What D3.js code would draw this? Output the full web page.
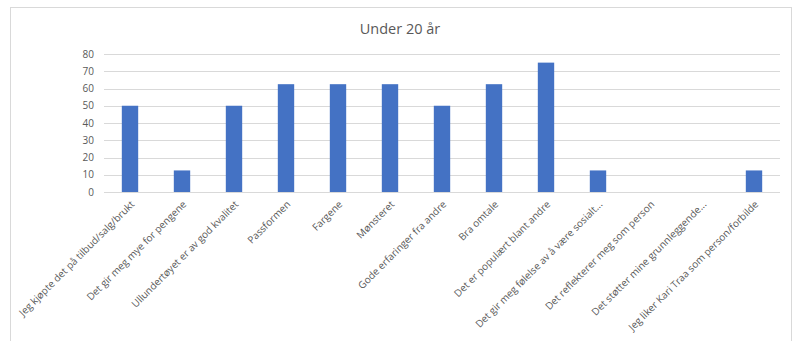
<!DOCTYPE html>
<html>
<head>
<meta charset="utf-8">
<script src="https://cdn.jsdelivr.net/npm/d3@7"></script>
<style>
  html, body { margin: 0; padding: 0; background: #fff; }
  svg { display: block; }
  text { font-family: "Open Sans", "Noto Sans", sans-serif; fill: #595959; }
</style>
</head>
<body>
<svg id="chart" width="794" height="341"></svg>
<script>
const title = "Under 20 år";
const categories = [
  "Jeg kjøpte det på tilbud/salg/brukt",
  "Det gir meg mye for pengene",
  "Ullundertøyet er av god kvalitet",
  "Passformen",
  "Fargene",
  "Mønsteret",
  "Gode erfaringer fra andre",
  "Bra omtale",
  "Det er populært blant andre",
  "Det gir meg følelse av å være sosialt...",
  "Det reflekterer meg som person",
  "Det støtter mine grunnleggende...",
  "Jeg liker Kari Traa som person/forbilde"
];
const values = [50, 12.5, 50, 62.5, 62.5, 62.5, 50, 62.5, 75, 12.5, 0, 0, 12.5];
const yTicks = [0, 10, 20, 30, 40, 50, 60, 70, 80];

const svg = d3.select("#chart");

// outer chart frame
svg.append("rect")
  .attr("x", 10.5).attr("y", 7.5)
  .attr("width", 781).attr("height", 345)
  .attr("fill", "none").attr("stroke", "#d9d9d9");

const plot = { left: 104, right: 780, top: 54, bottom: 192 };

const x = d3.scaleBand()
  .domain(categories)
  .range([plot.left, plot.right])
  .paddingInner(0.685)
  .paddingOuter(0.3425);

const y = d3.scaleLinear()
  .domain([0, 80])
  .range([plot.bottom, plot.top]);

// title
svg.append("text")
  .attr("x", 400).attr("y", 34)
  .attr("text-anchor", "middle")
  .style("font-size", "14.5px")
  .text(title);

// gridlines
svg.append("g")
  .selectAll("line")
  .data(yTicks)
  .join("line")
  .attr("x1", plot.left).attr("x2", plot.right)
  .attr("y1", d => Math.round(y(d)) + 0.5)
  .attr("y2", d => Math.round(y(d)) + 0.5)
  .attr("stroke", "#d9d9d9")
  .attr("stroke-width", 1);

// y axis labels
const yAxis = d3.axisLeft(y).tickValues(yTicks).tickSize(0).tickPadding(0);
const gy = svg.append("g")
  .attr("transform", `translate(${plot.left - 10},0)`)
  .call(yAxis);
gy.select(".domain").remove();
gy.selectAll("text")
  .style("font-size", "10px")
  .style("font-family", "'Open Sans', 'Noto Sans', sans-serif")
  .attr("fill", "#595959");

// bars
svg.append("g")
  .selectAll("rect")
  .data(values)
  .join("rect")
  .attr("x", (d, i) => x(categories[i]))
  .attr("width", x.bandwidth())
  .attr("y", d => y(d))
  .attr("height", d => y(0) - y(d))
  .attr("fill", "#4472C4");

// category labels
const xAxis = d3.axisBottom(x).tickSize(0).tickPadding(0);
const gx = svg.append("g")
  .attr("transform", `translate(0,${plot.bottom})`)
  .call(xAxis);
gx.select(".domain").remove();
gx.selectAll("text")
  .style("font-size", "10px")
  .style("font-family", "'Open Sans', 'Noto Sans', sans-serif")
  .attr("fill", "#666666")
  .attr("text-anchor", "end")
  .attr("dy", null)
  .attr("y", 0)
  .attr("transform", "translate(5,13) rotate(-45)");
</script>
</body>
</html>
